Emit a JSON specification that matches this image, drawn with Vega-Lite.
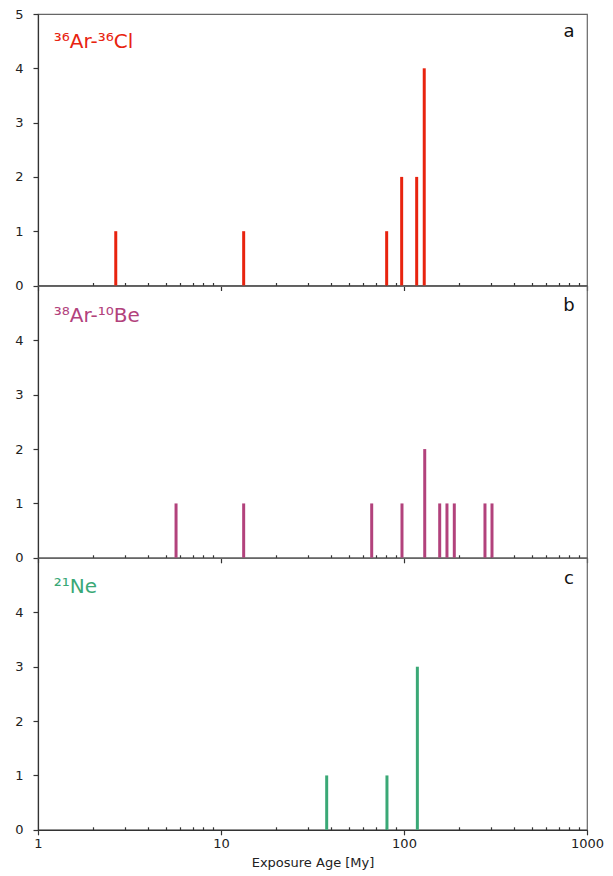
{
  "$schema": "https://vega.github.io/schema/vega-lite/v6.json",
  "padding": {"left": 14, "top": 7, "right": 5, "bottom": 4},
  "background": "white",
  "bounds": "flush",
  "spacing": 0,
  "config": {
    "font": "DejaVu Sans",
    "view": {"stroke": "#666", "strokeWidth": 1.2},
    "axis": {"domainColor": "#333", "tickColor": "#333", "labelColor": "#222", "labelFontSize": 13, "labelFont": "DejaVu Sans", "grid": false, "titleFont": "DejaVu Sans", "titleFontWeight": "normal", "titleFontSize": 13, "titleColor": "#222", "domainWidth": 1.2, "tickWidth": 1.2}
  },
  "datasets": {
    "ages": [
      {"panel": "a", "age": 2.66, "count": 1},
      {"panel": "a", "age": 13.3, "count": 1},
      {"panel": "a", "age": 80.4, "count": 1},
      {"panel": "a", "age": 97.1, "count": 2},
      {"panel": "a", "age": 117.3, "count": 2},
      {"panel": "a", "age": 129, "count": 4},
      {"panel": "b", "age": 5.68, "count": 1},
      {"panel": "b", "age": 13.3, "count": 1},
      {"panel": "b", "age": 66.6, "count": 1},
      {"panel": "b", "age": 97.5, "count": 1},
      {"panel": "b", "age": 129.8, "count": 2},
      {"panel": "b", "age": 156.7, "count": 1},
      {"panel": "b", "age": 171.7, "count": 1},
      {"panel": "b", "age": 188.3, "count": 1},
      {"panel": "b", "age": 277, "count": 1},
      {"panel": "b", "age": 302.6, "count": 1},
      {"panel": "c", "age": 37.8, "count": 1},
      {"panel": "c", "age": 80.7, "count": 1},
      {"panel": "c", "age": 118.3, "count": 3}
    ],
    "labels": [
      {"panel": "a", "title": "³⁶Ar-³⁶Cl", "letter": "a"},
      {"panel": "b", "title": "³⁸Ar-¹⁰Be", "letter": "b"},
      {"panel": "c", "title": "²¹Ne", "letter": "c"}
    ]
  },
  "vconcat": [
    {
      "width": 549, "height": 271.5,
      "layer": [
        {
          "data": {"name": "ages"},
          "transform": [{"filter": "datum.panel == 'a'"}],
          "mark": {"type": "rule", "strokeWidth": 3, "color": "#e8230f"},
          "encoding": {
            "x": {"field": "age", "type": "quantitative", "scale": {"type": "log", "domain": [1, 1000], "nice": false},
              "axis": {"title": null, "labels": false, "values": [1,2,3,4,5,6,7,8,9,10,20,30,40,50,60,70,80,90,100,200,300,400,500,600,700,800,900,1000],
                "tickSize": {"condition": {"test": "datum.value == 1 || datum.value == 10 || datum.value == 100 || datum.value == 1000", "value": 5}, "value": -3}}},
            "y": {"field": "count", "type": "quantitative", "scale": {"domain": [0, 5], "nice": false},
              "axis": {"title": null, "values": [0,1,2,3,4,5], "tickSize": 5, "labelPadding": 10}},
            "y2": {"datum": 0}
          }
        },
        {
          "data": {"name": "labels"},
          "transform": [{"filter": "datum.panel == 'a'"}],
          "mark": {"type": "text", "align": "left", "baseline": "alphabetic", "fontSize": 20, "color": "#e8230f"},
          "encoding": {"x": {"datum": 1.22, "type": "quantitative"}, "y": {"datum": 4.37, "type": "quantitative"}, "text": {"field": "title"}}
        },
        {
          "data": {"name": "labels"},
          "transform": [{"filter": "datum.panel == 'a'"}],
          "mark": {"type": "text", "align": "center", "baseline": "alphabetic", "fontSize": 18, "color": "#111"},
          "encoding": {"x": {"datum": 798, "type": "quantitative"}, "y": {"datum": 4.57, "type": "quantitative"}, "text": {"field": "letter"}}
        }
      ]
    },
    {
      "width": 549, "height": 271.8,
      "layer": [
        {
          "data": {"name": "ages"},
          "transform": [{"filter": "datum.panel == 'b'"}],
          "mark": {"type": "rule", "strokeWidth": 3, "color": "#b2427c"},
          "encoding": {
            "x": {"field": "age", "type": "quantitative", "scale": {"type": "log", "domain": [1, 1000], "nice": false},
              "axis": {"title": null, "labels": false, "values": [1,2,3,4,5,6,7,8,9,10,20,30,40,50,60,70,80,90,100,200,300,400,500,600,700,800,900,1000],
                "tickSize": {"condition": {"test": "datum.value == 1 || datum.value == 10 || datum.value == 100 || datum.value == 1000", "value": 5}, "value": -3}}},
            "y": {"field": "count", "type": "quantitative", "scale": {"domain": [0, 5], "nice": false},
              "axis": {"title": null, "values": [0,1,2,3,4], "tickSize": 5, "labelPadding": 10}},
            "y2": {"datum": 0}
          }
        },
        {
          "data": {"name": "labels"},
          "transform": [{"filter": "datum.panel == 'b'"}],
          "mark": {"type": "text", "align": "left", "baseline": "alphabetic", "fontSize": 20, "color": "#b2427c"},
          "encoding": {"x": {"datum": 1.22, "type": "quantitative"}, "y": {"datum": 4.33, "type": "quantitative"}, "text": {"field": "title"}}
        },
        {
          "data": {"name": "labels"},
          "transform": [{"filter": "datum.panel == 'b'"}],
          "mark": {"type": "text", "align": "center", "baseline": "alphabetic", "fontSize": 18, "color": "#111"},
          "encoding": {"x": {"datum": 798, "type": "quantitative"}, "y": {"datum": 4.54, "type": "quantitative"}, "text": {"field": "letter"}}
        }
      ]
    },
    {
      "width": 549, "height": 271.8,
      "layer": [
        {
          "data": {"name": "ages"},
          "transform": [{"filter": "datum.panel == 'c'"}],
          "mark": {"type": "rule", "strokeWidth": 3, "color": "#3aa876"},
          "encoding": {
            "x": {"field": "age", "type": "quantitative", "scale": {"type": "log", "domain": [1, 1000], "nice": false},
              "axis": {"title": "Exposure Age [My]", "titlePadding": 6, "labelPadding": 3, "values": [1,2,3,4,5,6,7,8,9,10,20,30,40,50,60,70,80,90,100,200,300,400,500,600,700,800,900,1000],
                "labelExpr": "(datum.value == 1 || datum.value == 10 || datum.value == 100 || datum.value == 1000) ? ('' + datum.value) : ''",
                "labelFlush": false, "labelOverlap": false,
                "tickSize": {"condition": {"test": "datum.value == 1 || datum.value == 10 || datum.value == 100 || datum.value == 1000", "value": 5}, "value": -3}}},
            "y": {"field": "count", "type": "quantitative", "scale": {"domain": [0, 5], "nice": false},
              "axis": {"title": null, "values": [0,1,2,3,4], "tickSize": 5, "labelPadding": 10}},
            "y2": {"datum": 0}
          }
        },
        {
          "data": {"name": "labels"},
          "transform": [{"filter": "datum.panel == 'c'"}],
          "mark": {"type": "text", "align": "left", "baseline": "alphabetic", "fontSize": 20, "color": "#3aa876"},
          "encoding": {"x": {"datum": 1.22, "type": "quantitative"}, "y": {"datum": 4.35, "type": "quantitative"}, "text": {"field": "title"}}
        },
        {
          "data": {"name": "labels"},
          "transform": [{"filter": "datum.panel == 'c'"}],
          "mark": {"type": "text", "align": "center", "baseline": "alphabetic", "fontSize": 18, "color": "#111"},
          "encoding": {"x": {"datum": 798, "type": "quantitative"}, "y": {"datum": 4.52, "type": "quantitative"}, "text": {"field": "letter"}}
        }
      ]
    }
  ]
}
